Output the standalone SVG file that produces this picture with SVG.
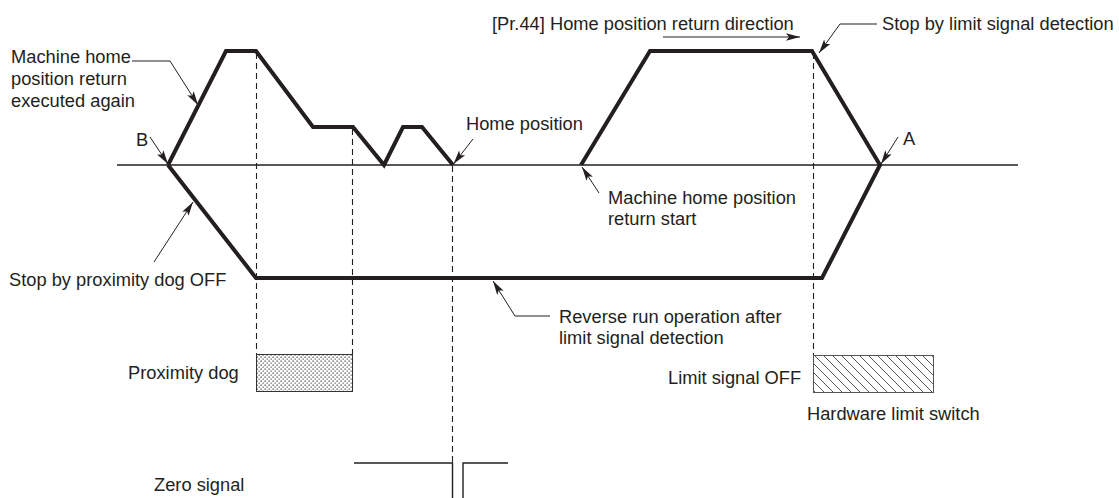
<svg xmlns="http://www.w3.org/2000/svg" width="1119" height="498" viewBox="0 0 1119 498">
<style>
text{font-family:"Liberation Sans",Arial,sans-serif;font-size:18.3px;fill:#231f20}
.axis{stroke:#231f20;stroke-width:1.3;fill:none}
.thick{stroke:#231f20;stroke-width:4;fill:none;stroke-linejoin:miter}
.dash{stroke:#231f20;stroke-width:1.1;stroke-dasharray:6 4;fill:none}
.leadA{stroke:#231f20;stroke-width:1;fill:none;marker-end:url(#ah)}
.sig{stroke:#231f20;stroke-width:1.4;fill:none}
</style>
<defs>
<marker id="ah" markerUnits="userSpaceOnUse" markerWidth="16" markerHeight="10" refX="14" refY="5" orient="auto">
<path d="M0,1.2 L14,5 L0,8.8 L3,5 z" fill="#231f20"/>
</marker>
<pattern id="dots" patternUnits="userSpaceOnUse" width="4" height="4">
<rect width="4" height="4" fill="#fff"/>
<rect x="0.5" y="0.5" width="1.3" height="1.3" fill="#444"/>
<rect x="2.5" y="2.5" width="1.3" height="1.3" fill="#666"/>
</pattern>
<pattern id="hatch" patternUnits="userSpaceOnUse" width="9" height="9">
<rect width="9" height="9" fill="#fff"/>
<path d="M-1,-1 L10,10 M-1,8 L1,10 M8,-1 L10,1" stroke="#444" stroke-width="0.9"/>
</pattern>
</defs>
<rect width="1119" height="498" fill="#fff"/>

<g id="axis">
<line class="axis" x1="117" y1="165" x2="1018" y2="165"/>
</g>

<g id="dashes">
<line class="dash" x1="256.5" y1="53" x2="256.5" y2="354"/>
<line class="dash" x1="352.5" y1="129" x2="352.5" y2="391"/>
<line class="dash" x1="452.5" y1="166" x2="452.5" y2="463"/>
<line class="dash" x1="813.5" y1="53" x2="813.5" y2="355"/>
</g>

<g id="profile">
<polyline class="thick" points="168,165 226,51 256,51 313,127 353,127 384,165 403,127 422,127 453,165"/>
<polyline class="thick" points="581,165 650,51 812,51 880,165 822,278 256,278 168,165"/>
</g>

<g id="proximity-dog">
<rect x="256.5" y="354.5" width="96" height="37" fill="url(#dots)" stroke="#333" stroke-width="1"/>
<text x="128" y="379">Proximity dog</text>
</g>

<g id="limit-switch">
<rect x="813.5" y="355.5" width="120" height="37" fill="url(#hatch)" stroke="#555" stroke-width="1"/>
<text x="668" y="384">Limit signal OFF</text>
<text x="807" y="420">Hardware limit switch</text>
</g>

<g id="zero-signal">
<polyline class="sig" points="354,463 452.5,463 452.5,498"/>
<polyline class="sig" points="463,498 463,463 508,463"/>
<text x="154" y="491">Zero signal</text>
</g>

<g id="labels">
<text x="11" y="63">Machine home</text>
<text x="11" y="85">position return</text>
<text x="11" y="107">executed again</text>
<text x="136" y="146">B</text>
<text x="903" y="145">A</text>
<text x="466" y="130">Home position</text>
<text x="608" y="204">Machine home position</text>
<text x="608" y="225">return start</text>
<text x="9" y="286">Stop by proximity dog OFF</text>
<text x="559" y="323">Reverse run operation after</text>
<text x="559" y="344">limit signal detection</text>
<text x="492" y="30">[Pr.44] Home position return direction</text>
<text x="882" y="30">Stop by limit signal detection</text>
</g>

<g id="connectors">
<polyline class="leadA" points="132,61 170,61 198,105"/>
<line class="leadA" x1="150" y1="137" x2="168" y2="164"/>
<line class="leadA" x1="898" y1="137" x2="881" y2="164"/>
<line class="leadA" x1="473" y1="139" x2="453.5" y2="164"/>
<line class="leadA" x1="599" y1="193" x2="582" y2="167"/>
<line class="leadA" x1="154" y1="262" x2="193" y2="202"/>
<polyline class="leadA" points="550,316 515,316 493,281"/>
<polyline class="leadA" points="877,24 840,24 819,53"/>
<line class="leadA" x1="663" y1="37" x2="800" y2="37"/>
</g>
</svg>
